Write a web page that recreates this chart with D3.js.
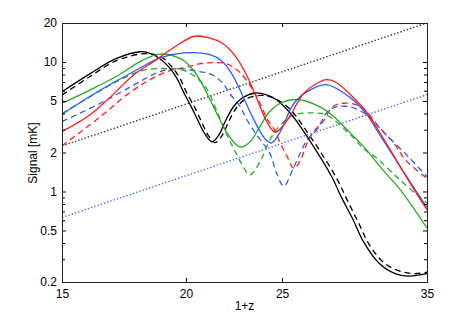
<!DOCTYPE html>
<html>
<head>
<meta charset="utf-8">
<script src="https://cdn.jsdelivr.net/npm/d3@7"></script>
<style>
  html, body { margin: 0; padding: 0; background: #fff; }
  svg { display: block; }
  text { font-family: "Liberation Sans", Arial, Helvetica, sans-serif; font-size: 12px; fill: #000; }
</style>
</head>
<body>
<svg id="chart" width="471" height="318"></svg>
<script>
// ---------- data: [1+z, signal mK] ----------
const blackSolid = [[15,5.9],[16,8.1],[17,10.6],[17.98,12.0],[18.37,11.7],[18.8,10.7],[19.21,9.2],[19.58,7.5],[19.89,5.85],[20.25,4.5],[20.58,3.5],[20.9,2.78],[21.25,2.42],[21.6,2.75],[21.95,3.58],[22.35,4.55],[22.79,5.27],[23.5,5.76],[24.08,5.6],[24.68,5.11],[25.5,4.0],[26.1,3.16],[26.9,2.22],[28.0,1.34],[28.7,0.9],[29.5,0.6],[30.2,0.41],[31.3,0.28],[32.5,0.232],[33.5,0.222],[35,0.232]];
const blackDashed = [[15,5.55],[16,7.7],[17,10.2],[18.2,11.6],[18.9,10.9],[19.35,9.2],[19.72,7.5],[20.03,5.8],[20.4,4.5],[20.72,3.5],[21.04,2.75],[21.4,2.38],[21.75,2.7],[22.1,3.5],[22.5,4.45],[22.95,5.15],[23.8,5.52],[24.4,5.35],[24.9,4.95],[25.4,4.4],[25.8,3.85],[26.4,3.0],[27.3,2.05],[28.4,1.25],[29.1,0.85],[29.9,0.56],[30.6,0.39],[31.7,0.28],[32.9,0.242],[34,0.232],[35,0.238]];
const redSolid = [[15,2.9],[16,3.9],[16.8,5.4],[17.7,7.9],[18.6,10.2],[19.5,13.1],[20.4,15.8],[21.15,15.3],[21.75,14.0],[22.44,11.06],[22.97,8.22],[23.42,5.94],[23.79,4.41],[24.17,3.38],[24.6,2.87],[25.1,3.26],[25.5,3.9],[26.3,5.73],[27.3,7.04],[27.7,7.3],[28.3,7.0],[29.2,5.73],[30.3,4.26],[31.6,2.6],[32.9,1.55],[33.9,1.06],[35,0.72]];
const redDashed = [[15,2.25],[16.4,3.78],[17.7,6.07],[19.1,8.4],[20,9.1],[20.7,9.7],[21.4,9.9],[21.95,9.7],[22.6,8.5],[23.24,6.5],[23.8,4.66],[24.17,3.58],[24.5,3.1],[24.9,2.37],[25.3,1.86],[25.7,1.51],[26.1,1.75],[26.5,2.37],[26.9,2.9],[27.5,3.47],[28.1,4.5],[28.8,4.8],[29.7,4.67],[30.3,4.26],[31.3,3.16],[32.4,2.37],[33.3,1.75],[35,1.26]];
const blueSolid = [[15,3.94],[16.4,6.07],[17.7,8.4],[18.8,10.7],[19.9,11.75],[21.15,11.38],[21.75,10.12],[22.27,7.98],[22.79,5.59],[23.24,4.04],[23.7,3.0],[24.08,2.51],[24.4,2.37],[24.9,2.9],[25.7,4.8],[26.5,5.9],[27.7,6.69],[29.2,5.4],[30.3,4.1],[31.6,2.5],[32.9,1.55],[35,0.75]];
const blueDashed = [[15,3.47],[16.4,4.8],[17.7,6.6],[18.8,8.4],[19.5,8.9],[20.7,8.4],[21.3,7.9],[21.8,6.8],[22.2,5.56],[22.7,4.5],[23.0,3.67],[23.6,2.7],[24.3,1.97],[24.7,1.37],[25.1,1.1],[25.7,1.55],[26.5,2.5],[27.1,3.0],[27.9,4.26],[29.0,4.55],[30.3,4.0],[31.6,2.9],[33.5,1.86],[35,1.3]];
const greenSolid = [[15,4.8],[16,6.07],[17.1,7.9],[18,10.1],[18.8,11.5],[19.7,10.7],[20.19,9.27],[20.7,7.09],[21.15,5.11],[21.6,3.69],[22.0,2.83],[22.44,2.33],[22.75,2.2],[23.24,2.44],[23.7,3.09],[24.3,4.16],[24.9,4.8],[25.9,5.13],[27.3,4.5],[28.2,3.78],[29.2,2.9],[30.3,2.16],[31.6,1.46],[32.9,1.03],[34.2,0.68],[35,0.52]];
const greenDashed = [[15,4.0],[16.4,6.0],[17.3,7.5],[18.1,8.6],[19.1,8.9],[20,8.5],[20.9,6.5],[21.4,4.5],[21.75,3.35],[22.15,2.45],[22.45,2.0],[22.8,1.6],[23.2,1.34],[23.8,1.75],[24.3,2.5],[24.9,3.26],[25.7,3.9],[26.6,4.04],[27.7,3.9],[29.2,2.81],[30.3,2.1],[31.0,1.86],[32.9,1.22],[35,0.81]];
const blackDotted = [[15,2.25],[35,20]];
const blueDotted = [[15,0.63],[35,5.6]];

const xTicks = [15,20,25,35];
const yTicks = [0.2,0.5,1,2,5,10,20];
const yMinor = [0.3,0.4,0.6,0.7,0.8,0.9,3,4,6,7,8,9];
const xDomain = [15,35];
const yDomain = [0.2,20];

// ---------- layout ----------
const L = 62, R = 427, T = 23, B = 282;
const svg = d3.select("#chart");
const x = d3.scaleLog().domain(xDomain).range([L, R]);
const y = d3.scaleLog().domain(yDomain).range([B, T]);

svg.append("defs").append("clipPath").attr("id","clip")
  .append("rect").attr("x",L).attr("y",T).attr("width",R-L).attr("height",B-T);

const line = d3.line().x(d => x(d[0])).y(d => y(d[1])).curve(d3.curveCatmullRom.alpha(0.5));

const series = [
  {d: blackDotted, c: "#333", dash: "1.4,2", w: 1.4},
  {d: blueDotted, c: "#5068ff", dash: "1.4,2", w: 1.4},
  {d: blackDashed, c: "#000", dash: "6,4", w: 1.3},
  {d: redDashed, c: "#ff1a1a", dash: "6,4", w: 1.3},
  {d: blueDashed, c: "#2b5cff", dash: "6,4", w: 1.3},
  {d: greenDashed, c: "#28a828", dash: "6,4", w: 1.3},
  {d: blackSolid, c: "#000", dash: null, w: 1.3},
  {d: greenSolid, c: "#28a828", dash: null, w: 1.3},
  {d: blueSolid, c: "#2b5cff", dash: null, w: 1.3},
  {d: redSolid, c: "#ff1a1a", dash: null, w: 1.3}
];
const g = svg.append("g").attr("clip-path","url(#clip)");
series.forEach(s => {
  g.append("path").datum(s.d).attr("d", line)
    .attr("fill","none").attr("stroke", s.c).attr("stroke-width", s.w)
    .attr("stroke-dasharray", s.dash);
});

// ---------- axes ----------
const axB = d3.axisBottom(x).tickValues(xTicks).tickFormat(d3.format("d")).tickSize(-4).tickPadding(7);
const axT = d3.axisTop(x).tickValues(xTicks).tickFormat("").tickSize(-4);
const axL = d3.axisLeft(y).tickValues(yTicks).tickFormat(d => String(d)).tickSize(-4).tickPadding(5);
const axR = d3.axisRight(y).tickValues(yTicks).tickFormat("").tickSize(-4);
const axLm = d3.axisLeft(y).tickValues(yMinor).tickFormat("").tickSize(-3);
const axRm = d3.axisRight(y).tickValues(yMinor).tickFormat("").tickSize(-3);

function styleAxis(sel){
  sel.select(".domain").remove();
  sel.selectAll(".tick line").attr("stroke","#000").attr("stroke-width",1);
  sel.selectAll("text").attr("font-size",12).attr("font-family","Liberation Sans, Arial, Helvetica, sans-serif").attr("fill","#000");
}
svg.append("g").attr("transform",`translate(0,${B})`).call(axB).call(styleAxis);
svg.append("g").attr("transform",`translate(0,${T})`).call(axT).call(styleAxis);
svg.append("g").attr("transform",`translate(${L},0)`).call(axL).call(styleAxis);
svg.append("g").attr("transform",`translate(${R},0)`).call(axR).call(styleAxis);
svg.append("g").attr("transform",`translate(${L},0)`).call(axLm).call(styleAxis);
svg.append("g").attr("transform",`translate(${R},0)`).call(axRm).call(styleAxis);

svg.append("rect").attr("x",L+0.5).attr("y",T+0.5).attr("width",R-L).attr("height",B-T)
  .attr("fill","none").attr("stroke","#222").attr("stroke-width",1);

// ---------- labels ----------
svg.append("text").attr("x",(L+R)/2).attr("y",310).attr("text-anchor","middle").text("1+z");
svg.append("text").attr("transform","translate(37,153) rotate(-90)").attr("text-anchor","middle").text("Signal [mK]");
</script>
</body>
</html>
